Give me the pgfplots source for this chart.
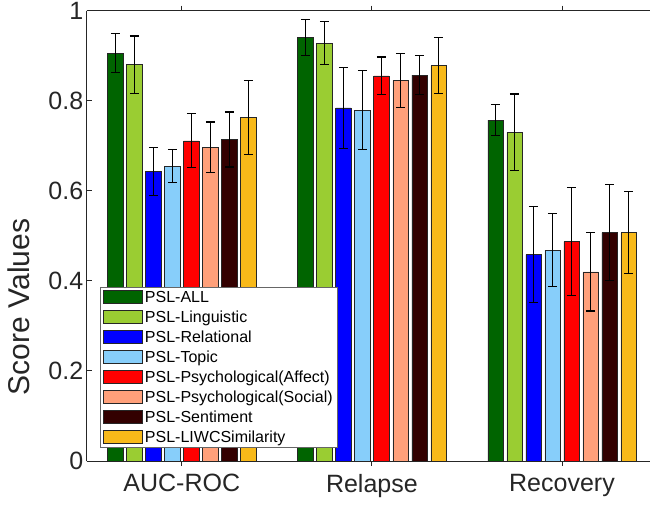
\documentclass[border=0pt]{standalone}
\usepackage{pgfplots}
\pgfplotsset{compat=1.18}
\usepackage{fontspec}
\setmainfont{Liberation Sans}

\definecolor{cAll}{RGB}{0,100,0}
\definecolor{cLing}{RGB}{154,205,50}
\definecolor{cRel}{RGB}{0,0,255}
\definecolor{cTop}{RGB}{135,206,250}
\definecolor{cAff}{RGB}{255,0,0}
\definecolor{cSoc}{RGB}{255,160,122}
\definecolor{cSent}{RGB}{51,0,0}
\definecolor{cLiwc}{RGB}{248,185,25}
\definecolor{axgray}{RGB}{38,38,38}

\begin{document}
\begin{tikzpicture}
\begin{axis}[
  scale only axis,
  width=563pt, height=450pt,
  xmin=0.5, xmax=3.463,
  ymin=0, ymax=1,
  axis x line*=box,
  axis y line*=left,
  axis line style={axgray, line width=0.8pt},
  tick style={axgray, line width=0.8pt},
  tick align=inside,
  major tick length=5pt,
  xtick={1,2,3},
  xticklabels={AUC-ROC,Relapse,Recovery},
  ytick={0,0.2,0.4,0.6,0.8,1},
  yticklabels={0,0.2,0.4,0.6,0.8,1},
  /pgf/number format/assume math mode=true,
  tick label style={font=\fontsize{25}{25}\selectfont, text=axgray},
  xticklabel style={yshift=-5pt},
  ylabel={Score Values},
  ylabel style={font=\fontsize{30}{30}\selectfont, text=axgray,
    at={(axis description cs:-0.12,0.342)}, anchor=center},
  ybar,
  bar width=0.08,
  every axis plot/.append style={draw=black!85, line width=0.6pt,
    error bars/y dir=both, error bars/y explicit,
    error bars/error bar style={black, line width=1.2pt},
    error bars/error mark options={black, line width=1.2pt, mark size=4.5pt, rotate=90}},
  legend cell align=left,
  legend style={at={(0.0236,0.029)}, anchor=south west,
    draw=black!60, line width=0.6pt,
    font=\fontsize{16}{19.5}\selectfont, text=black,
    row sep=2.9pt, inner xsep=3pt, inner ysep=2pt},
  legend image code/.code={\draw[#1, line width=0.6pt] (0pt,-6.5pt) rectangle (39pt,6.5pt);},
]
\coordinate (bl) at (rel axis cs:0,0);
\coordinate (tr) at (rel axis cs:1,1);

\addplot[fill=cAll, bar shift=-0.35] coordinates {
  (1,0.906) +- (0,0.044) (2,0.941) +- (0,0.040) (3,0.757) +- (0,0.035)};
\addlegendentry{PSL-ALL}
\addplot[fill=cLing, bar shift=-0.25] coordinates {
  (1,0.880) +- (0,0.064) (2,0.928) +- (0,0.048) (3,0.730) +- (0,0.085)};
\addlegendentry{PSL-Linguistic}
\addplot[fill=cRel, bar shift=-0.15] coordinates {
  (1,0.643) +- (0,0.053) (2,0.784) +- (0,0.090) (3,0.458) +- (0,0.107)};
\addlegendentry{PSL-Relational}
\addplot[fill=cTop, bar shift=-0.05] coordinates {
  (1,0.655) +- (0,0.037) (2,0.779) +- (0,0.088) (3,0.468) +- (0,0.081)};
\addlegendentry{PSL-Topic}
\addplot[fill=cAff, bar shift=0.05] coordinates {
  (1,0.711) +- (0,0.060) (2,0.855) +- (0,0.042) (3,0.487) +- (0,0.120)};
\addlegendentry{PSL-Psychological(Affect)}
\addplot[fill=cSoc, bar shift=0.15] coordinates {
  (1,0.697) +- (0,0.056) (2,0.845) +- (0,0.060) (3,0.420) +- (0,0.087)};
\addlegendentry{PSL-Psychological(Social)}
\addplot[fill=cSent, bar shift=0.25] coordinates {
  (1,0.714) +- (0,0.061) (2,0.857) +- (0,0.044) (3,0.507) +- (0,0.107)};
\addlegendentry{PSL-Sentiment}
\addplot[fill=cLiwc, bar shift=0.35] coordinates {
  (1,0.763) +- (0,0.082) (2,0.878) +- (0,0.062) (3,0.507) +- (0,0.091)};
\addlegendentry{PSL-LIWCSimilarity}
\end{axis}
\pgfresetboundingbox
\useasboundingbox ([xshift=-86.7pt,yshift=-46pt]bl) rectangle ([yshift=10.7pt]tr);
\end{tikzpicture}
\end{document}
